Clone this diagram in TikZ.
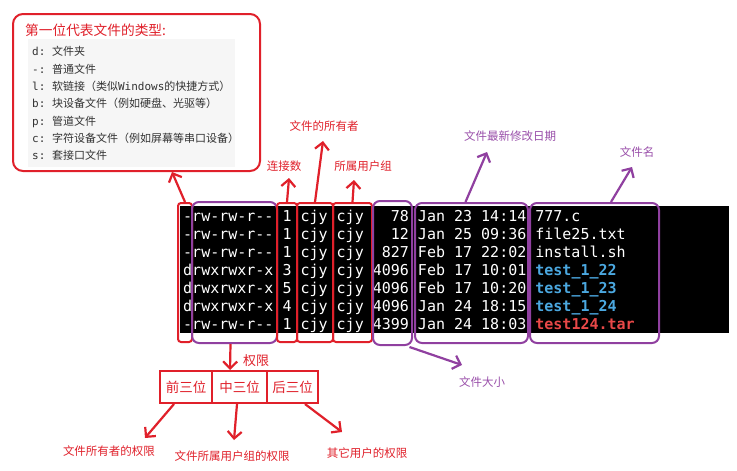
\documentclass[tikz,border=0pt]{standalone}
\usepackage{fontspec}
\setmonofont{DejaVu Sans Mono}
\newfontfamily\cjk{Noto Sans CJK SC}
\usetikzlibrary{arrows.meta}
\definecolor{myred}{HTML}{E0202A}
\definecolor{mypurple}{HTML}{9040A0}
\definecolor{lblpurple}{HTML}{9A50AA}
\definecolor{dirblue}{HTML}{4BA8E0}
\definecolor{tarred}{HTML}{E84848}
\definecolor{boxgray}{HTML}{F6F6F6}
\newcommand\tline[2]{{\ttfamily #1}{\cjk #2}}
\begin{document}
\begin{tikzpicture}[x=1pt,y=-1pt,
  redbox/.style={draw=myred,line width=2pt,rounded corners=3pt,inner sep=0pt},
  purbox/.style={draw=mypurple,line width=2pt,rounded corners=7pt,inner sep=0pt},
  redarr/.style={draw=myred,line width=2.2pt,-{Straight Barb[length=7pt,width=14pt]}},
  purarr/.style={draw=mypurple,line width=2.2pt,-{Straight Barb[length=7pt,width=14pt]}},
  rlbl/.style={text=myred,inner sep=0pt,font=\cjk\fontsize{11.5}{13}\selectfont},
  plbl/.style={text=lblpurple,inner sep=0pt,font=\cjk\fontsize{11.5}{13}\selectfont},
  trow/.style={anchor=base west,inner sep=0pt,text=white,font=\ttfamily\fontsize{15}{18}\selectfont},
  bline/.style={anchor=base west,inner sep=0pt,text=black!80,font=\fontsize{11}{12}\selectfont},
  permbox/.style={draw=myred,line width=2pt,inner sep=0pt,minimum height=32pt,text=myred,font=\cjk\fontsize{13.5}{15}\selectfont}]
\useasboundingbox (0,0) rectangle (737,471);
\fill[white] (0,0) rectangle (737,471);

% type legend box
\fill[boxgray] (28,39) rectangle (235,167);
\node[draw=myred,line width=2pt,rounded corners=10pt,inner sep=0pt,minimum width=247pt,minimum height=157pt] (typebox) at (136.5,92.5) {};
\node[anchor=west,inner sep=0pt,text=myred,font=\cjk\fontsize{13.7}{15}\selectfont] (title) at (25,30) {第一位代表文件的类型:};
\node[bline] (l1) at (32,56) {\tline{d:\ }{文件夹}};
\node[bline] (l2) at (32,73.3) {\tline{-:\ }{普通文件}};
\node[bline] (l3) at (32,90.6) {\tline{l:\ }{软链接（类似}{\ttfamily Windows}{\cjk 的快捷方式）}};
\node[bline] (l4) at (32,107.9) {\tline{b:\ }{块设备文件（例如硬盘、光驱等）}};
\node[bline] (l5) at (32,125.2) {\tline{p:\ }{管道文件}};
\node[bline] (l6) at (32,142.5) {\tline{c:\ }{字符设备文件（例如屏幕等串口设备）}};
\node[bline] (l7) at (32,159.8) {\tline{s:\ }{套接口文件}};

% terminal
\fill[black] (180,206) rectangle (729,333);
\node[trow] (r1) at (183,221) {-rw-rw-r--\ 1\ cjy\ cjy\ \ \ 78\ Jan\ 23\ 14:14\ 777.c};
\node[trow] (r2) at (183,239) {-rw-rw-r--\ 1\ cjy\ cjy\ \ \ 12\ Jan\ 25\ 09:36\ file25.txt};
\node[trow] (r3) at (183,257) {-rw-rw-r--\ 1\ cjy\ cjy\ \ 827\ Feb\ 17\ 22:02\ install.sh};
\node[trow] (r4) at (183,275) {drwxrwxr-x\ 3\ cjy\ cjy\ 4096\ Feb\ 17\ 10:01\ {\bfseries\color{dirblue}test\_1\_22}};
\node[trow] (r5) at (183,293) {drwxrwxr-x\ 5\ cjy\ cjy\ 4096\ Feb\ 17\ 10:20\ {\bfseries\color{dirblue}test\_1\_23}};
\node[trow] (r6) at (183,311) {drwxrwxr-x\ 4\ cjy\ cjy\ 4096\ Jan\ 24\ 18:15\ {\bfseries\color{dirblue}test\_1\_24}};
\node[trow] (r7) at (183,329) {-rw-rw-r--\ 1\ cjy\ cjy\ 4399\ Jan\ 24\ 18:03\ {\bfseries\color{tarred}test124.tar}};

% column boxes
\node[redbox,minimum width=14pt,minimum height=139pt] (typecol) at (185,272.5) {};
\node[purbox,minimum width=85pt,minimum height=141pt] (permcol) at (234.5,272.5) {};
\node[redbox,minimum width=20pt,minimum height=139pt] (linkcol) at (287,272.5) {};
\node[redbox,minimum width=36pt,minimum height=139pt] (ownercol) at (315,272.5) {};
\node[redbox,minimum width=39pt,minimum height=139pt] (groupcol) at (352.5,272.5) {};
\node[purbox,minimum width=39pt,minimum height=144pt] (sizecol) at (392.5,273) {};
\node[purbox,minimum width=113pt,minimum height=140pt] (datecol) at (471.5,273) {};
\node[purbox,minimum width=129pt,minimum height=140pt] (namecol) at (594.5,273) {};

% labels above
\node[rlbl] (linklbl) at (284,166) {连接数};
\node[rlbl] (ownerlbl) at (324,126) {文件的所有者};
\node[rlbl] (grouplbl) at (363,166) {所属用户组};
\node[plbl] (datelbl) at (510,136) {文件最新修改日期};
\node[plbl] (namelbl) at (637,152) {文件名};
\node[plbl] (sizelbl) at (482,382) {文件大小};

\coordinate (typetip) at (172,172);
\coordinate (linktip) at (289,178);
\coordinate (ownertip) at (323,141);
\coordinate (grouptip) at (354,180);
\coordinate (datetip) at (487,152);
\coordinate (nametip) at (632,167);
\coordinate (sizetip) at (462,365);

\draw[redarr] (typecol.north) -- (typetip);
\draw[redarr] (linkcol.north) -- (linktip);
\draw[redarr] (ownercol.north) -- (ownertip);
\draw[redarr] (groupcol.north) -- (grouptip);
\draw[purarr] ([xshift=-6pt]datecol.north) -- (datetip);
\draw[purarr] ([xshift=16.5pt]namecol.north) -- (nametip);
\draw[purarr] ([xshift=17pt,yshift=-1pt]sizecol.south) -- (sizetip);

% permission breakdown
\node[permbox,minimum width=52pt] (b1) at (186,387) {前三位};
\node[permbox,minimum width=55pt] (b2) at (239.5,387) {中三位};
\node[permbox,minimum width=51pt] (b3) at (292.5,387) {后三位};
\node[inner sep=0pt,text=myred,font=\cjk\fontsize{13}{15}\selectfont] (permlbl) at (256,361) {权限};
\coordinate (permtip) at (230,370);
\draw[redarr] ([xshift=-4pt]permcol.south) -- (permtip);

\node[rlbl] (o1) at (109,451) {文件所有者的权限};
\node[rlbl] (o2) at (232,456) {文件所属用户组的权限};
\node[rlbl] (o3) at (367,453) {其它用户的权限};
\coordinate (t1) at (145,438);
\coordinate (t2) at (234,440);
\coordinate (t3) at (342,432);
\draw[redarr] ([xshift=-12pt]b1.south) -- (t1);
\draw[redarr] ([xshift=-2.5pt]b2.south) -- (t2);
\draw[redarr] ([xshift=12.5pt]b3.south) -- (t3);
\end{tikzpicture}
\end{document}
